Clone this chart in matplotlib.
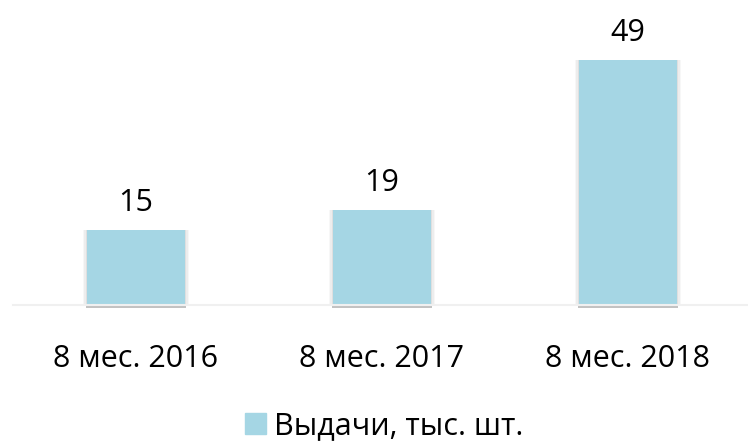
import numpy as np
import matplotlib.pyplot as plt
from matplotlib.patches import Patch

# data
categories = ["8 мес. 2016", "8 мес. 2017", "8 мес. 2018"]
values = [15, 19, 49]
series_name = "Выдачи, тыс. шт."

bar_color = "#A5D6E4"

plt.rcParams['font.family'] = ['Open Sans', 'DejaVu Sans']
fs = 22

fig = plt.figure(figsize=(7.48, 4.45), dpi=100)
ax = fig.add_axes([13 / 748, 140 / 445, 738 / 748, 305 / 445])

x = np.arange(len(categories))
# soft glow around bars
for dw, a in [(0.03, 0.03), (0.02, 0.04), (0.01, 0.06)]:
    ax.bar(x, values, width=0.4 + dw, color="black", alpha=a, zorder=1, linewidth=0)
ax.bar(x, values, width=0.4, color=bar_color, zorder=2, linewidth=0)
# shadow just under the base
ax.bar(x, [-0.6] * len(x), width=0.41, color="#9A9A9A", alpha=0.6, zorder=1,
       linewidth=0, clip_on=False)

for xi, v in zip(x, values):
    ax.annotate(str(v), (xi, v), xytext=(0, 14), textcoords="offset points",
                ha="center", va="baseline", fontsize=fs, color="#000000")

ax.set_xlim(-0.5, len(categories) - 0.5)
ax.set_ylim(0, 61)
ax.set_yticks([])
ax.set_xticks(x)
ax.set_xticklabels(categories, fontsize=fs)
ax.tick_params(axis="x", length=0, pad=28)
for s in ["top", "right", "left"]:
    ax.spines[s].set_visible(False)
ax.spines["bottom"].set_color("#F0F0F0")
ax.spines["bottom"].set_linewidth(1.5)

fig.legend(handles=[Patch(color=bar_color, label=series_name)],
           loc="center", bbox_to_anchor=(0.5 + 10 / 748, 1 - 426 / 445), frameon=False,
           fontsize=fs, handlelength=0.7, handleheight=0.7, handletextpad=0.25)

fig.savefig("out.png", dpi=100)
